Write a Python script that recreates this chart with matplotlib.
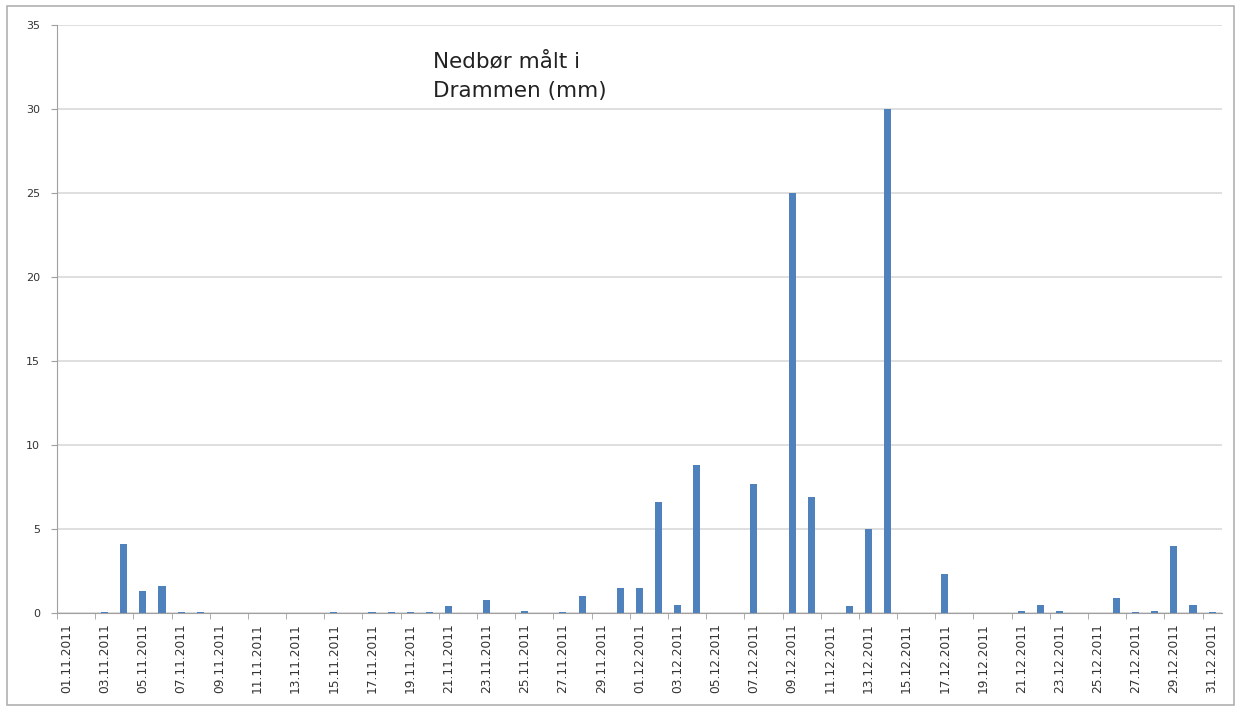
import numpy as np
import pandas as pd
from matplotlib import pyplot as plot
from matplotlib.patches import Rectangle

# Daily precipitation in Drammen, Nov-Dec 2011 (mm)
dates = pd.date_range('2011-11-01', '2011-12-31', freq='D')
labels = [d.strftime('%d.%m.%Y') for d in dates]
nov = [0, 0, 0.05, 4.1, 1.3, 1.6, 0.05, 0.05, 0, 0,
       0, 0, 0, 0, 0.05, 0, 0.05, 0.05, 0.05, 0.05,
       0.4, 0, 0.8, 0, 0.1, 0, 0.05, 1.0, 0, 1.5]
dec = [1.5, 6.6, 0.5, 8.8, 0, 0, 7.7, 0, 25.0, 6.9,
       0, 0.4, 5.0, 30.0, 0, 0, 2.3, 0, 0, 0,
       0.1, 0.5, 0.1, 0, 0, 0.9, 0.05, 0.15, 4.0, 0.5,
       0.05]
values = nov + dec

bar_color = '#4f81bd'
grid_color = '#d9d9d9'

fig = plot.figure(figsize=(12.39, 7.08), dpi=100)
ax = fig.add_axes([0.046, 0.134, 0.940, 0.831])

x = np.arange(len(values))
ax.bar(x, values, width=0.37, color=bar_color, zorder=3)

ax.set_xlim(-0.5, len(values) - 0.5)
ax.set_ylim(0, 35)
ax.set_yticks(range(0, 36, 5))
ax.yaxis.grid(True, color=grid_color, linewidth=1.2, zorder=0)

ax.set_xticks(x[::2])
ax.set_xticklabels(labels[::2], rotation=90, fontsize=8.8, color='#333333')
ax.set_xticks(np.arange(-0.5, len(values), 2), minor=True)
ax.tick_params(axis='x', which='major', length=0, pad=7)
ax.tick_params(axis='x', which='minor', length=4, color='#a0a0a0')
ax.tick_params(axis='y', length=4, color='#a0a0a0', labelsize=8, labelcolor='#333333', pad=8)

for side in ['top', 'right']:
    ax.spines[side].set_visible(False)
for side in ['left', 'bottom']:
    ax.spines[side].set_color('#a0a0a0')

ax.text(0.323, 0.955, 'Nedbør målt i\nDrammen (mm)', transform=ax.transAxes,
        fontsize=15.5, color='#222222', va='top', ha='left', linespacing=1.6,
        family='DejaVu Sans')

# chart area border
fig.patches.append(Rectangle((0.006, 0.004), 0.99, 0.988, transform=fig.transFigure,
                             fill=False, edgecolor='#b0b0b0', linewidth=1.2))

plot.savefig('out.png', dpi=100)
